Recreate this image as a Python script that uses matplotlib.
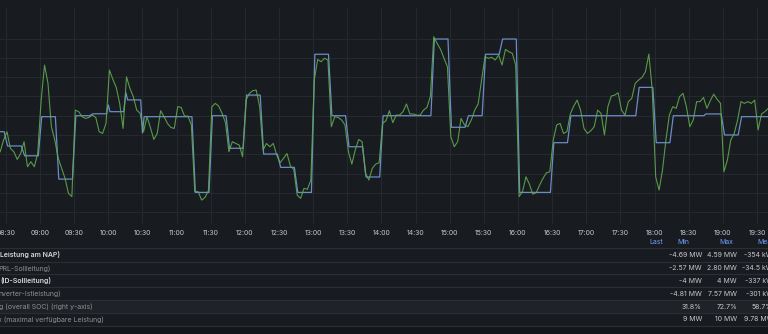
import pandas as pd
import matplotlib.pyplot as plt
import matplotlib.dates as mdates

# NAP power (green), 3-minute samples from 08:25
nap_start = "2024-01-01 08:25"
nap_mw = [
    -1.87, -1.26, -0.83, -1.70, -1.87, -2.27, -1.96, -1.35, -2.65, -2.39,
    -2.65, -1.96, 0.81, 2.63, 1.68, -0.57, -1.26, -2.21, -2.73, -3.25,
    -4.03, -4.20, 0.29, 0.21, -0.05, -0.14, -0.09, 0.03, -0.09, -0.83,
    -0.92, -0.40, 2.37, 1.89, 1.47, 0.64, -0.66, 2.02, 1.42, 0.99,
    0.29, 0.12, -0.83, -0.05, -0.61, -1.23, -0.92, 0.26, -0.05, -0.40,
    -0.61, -0.66, 0.47, 0.43, -0.02, -0.02, -0.48, -3.94, -3.94, -4.38,
    -4.24, -3.89, 0.47, 0.64, 0.50, 0.12, -0.36, -1.87, -1.35, -1.44,
    -1.52, -2.13, 0.81, 1.16, 1.30,
    1.33, 0.47, -1.78, -1.44, -1.61, -1.44, -2.04, -2.44, -2.21, -1.96,
    -2.61, -2.79, -4.12, -4.29, -3.77, -3.82, -3.34, 1.85, 2.92, 2.80,
    2.98, 2.89, -0.57, -0.05, -0.09, -0.22, -0.48, -1.87, -2.51, -1.78,
    -1.23, -1.35, -2.99, -3.34, -2.73, -2.51, -2.44, -0.40, -0.26, 0.26,
    -0.36, 0.03, 0.03, 0.21, 0.61, 0.09, 0.09, 0.03, 0.03, 0.29,
    0.43, 0.99, 4.10, 3.75, 3.44, 2.98, 2.54, -1.09, -1.61, -1.35,
    -0.14, -0.48, -0.57, -0.22, 0.29, 0.61, 1.85, 3.06, 2.98, 3.03,
    2.89, 3.15, 2.63, 3.44, 3.32,
    3.24, 2.63, -4.20, -3.94, -3.17, -3.55, -4.07, -4.00, -3.60, -3.25,
    -2.96, -2.91, -1.26, -0.48, -0.40, -0.92, -0.83, 0.09, 0.50, 0.81,
    0.29, -0.66, -0.92, -0.78, -0.57, 0.29, 0.12, -1.00, 0.47, 1.02,
    1.07, 1.19, 0.29, 0.03, 0.73, 0.90, 1.68, 1.85, 1.99, 2.28,
    3.20, 1.33, -3.17, -3.86, -2.82, -1.26, 0.03, 0.47, 0.38, 0.99,
    1.16, 0.47, -0.57, -0.22, 0.73, 0.73, 0.95, 0.38, 0.78, 1.12,
    0.85, 0.64, -2.91, -2.30, -1.26, -0.92, -0.22, 0.73, 0.64, 0.73,
    0.64, 0.81, -0.74, 0.09, 0.21, 0.38,
]

# ID setpoint (blue), breakpoints
id_time = [
    "08:25:00", "08:28:30", "08:31:30", "08:43:30", "08:46:30", "08:58:30",
    "09:01:30", "09:13:30", "09:16:30", "09:28:30", "09:31:30", "09:43:30",
    "09:46:30", "09:58:30", "10:00:00", "10:01:30", "10:13:30", "10:15:30",
    "10:17:00", "10:28:30", "10:30:00", "10:31:30", "11:13:30", "11:16:30",
    "11:28:30", "11:31:30", "11:43:30", "11:46:30", "11:58:30", "12:01:30",
    "12:13:30", "12:16:30", "12:28:30", "12:31:30", "12:43:30", "12:46:30",
    "12:58:30", "13:01:30", "13:13:30", "13:16:30", "13:28:30", "13:31:30",
    "13:43:30", "13:46:30", "13:58:30", "14:01:30", "14:43:30", "14:46:30",
    "14:58:30", "15:01:30", "15:13:30", "15:16:30", "15:28:30", "15:31:30",
    "15:43:30", "15:46:30", "15:58:30", "16:01:30", "16:28:30", "16:31:30",
    "16:43:30", "16:46:30", "17:43:30", "17:46:30", "17:58:30", "18:01:30",
    "18:13:30", "18:16:30", "18:43:30", "18:45:00", "18:58:30", "19:01:30",
    "19:13:30", "19:16:30", "19:40:00",
]
id_mw = [
    -0.83, -0.83, -1.57, -1.57, -2.08, -2.08,
    -0.05, -0.05, -3.29, -3.29, 0.0, 0.0,
    0.10, 0.10, 0.56, 0.21, 0.21, 1.19,
    0.82, 0.82, -0.90, -0.05, -0.05, -3.98,
    -3.98, 0.0, 0.0, -1.69, -1.69, 1.07,
    1.07, -1.99, -1.99, -2.68, -2.68, -3.98,
    -3.98, 3.19, 3.19, 0.0, 0.0, -1.61,
    -1.61, -3.18, -3.18, 0.0, 0.0, 3.98,
    3.98, -0.60, -0.60, 0.0, 0.0, 3.19,
    3.19, 3.98, 3.98, -3.98, -3.98, -1.40,
    -1.40, 0.0, 0.0, 1.47, 1.47, -1.40,
    -1.40, 0.0, 0.0, 0.09, 0.09, -1.0,
    -1.0, -0.05, -0.05,
]

# legend table
names = ["Leistung am NAP)", "PRL-Sollleitung)", "(ID-Sollleitung)",
         "nverter-Istleistung)", "g (overall SOC) (right y-axis)",
         "x (maximal verfügbare Leistung)"]
visible = [True, False, True, False, False, False]
col_min = ["-4.69 MW", "-2.57 MW", "-4 MW", "-4.81 MW", "31.8%", "9 MW"]
col_max = ["4.59 MW", "2.80 MW", "4 MW", "7.57 MW", "72.7%", "10 MW"]
col_mean = ["-354 kW", "-34.5 kW", "-337 kW", "-301 kW", "58.7%", "9.78 MW"]

bg = "#181b1f"
plt.rcParams["font.family"] = ["Inter", "DejaVu Sans"]

nap_t = pd.date_range(nap_start, periods=len(nap_mw), freq="3min")
id_t = pd.to_datetime(["2024-01-01 " + s for s in id_time])

fig = plt.figure(figsize=(7.68, 3.34), dpi=100, facecolor=bg)
W, H = 768, 334
ax = fig.add_axes([0, 1 - 224 / H, 1, 216 / H], facecolor=bg)

ax.plot(id_t, id_mw, color="#6a8cc8", lw=0.9)
ax.plot(nap_t, nap_mw, color="#5ea84e", lw=0.8, alpha=0.9)

ax.set_xlim(pd.Timestamp("2024-01-01 08:24:51"), pd.Timestamp("2024-01-01 19:39:42"))
ax.set_ylim(-5.62, 5.59)
ax.set_yticks(range(-5, 5))
ax.set_xticks(pd.date_range("2024-01-01 08:30", "2024-01-01 19:30", freq="30min"))
ax.xaxis.set_major_formatter(mdates.DateFormatter("%H:%M"))
ax.grid(True, color="#25282d", lw=0.8)
ax.set_axisbelow(True)
ax.tick_params(axis="x", length=0, pad=4.5, labelsize=5, labelcolor="#c4c5cb")
ax.tick_params(axis="y", length=0, labelleft=False)
for s in ax.spines.values():
    s.set_visible(False)

# table area in pixel coordinates
tab = fig.add_axes([0, 0, 1, 1], facecolor="none", zorder=-1)
tab.set_xlim(0, W)
tab.set_ylim(H, 0)
tab.axis("off")
tab.axhspan(300.3, 313.3, color="#1f2226", lw=0)
tab.axhspan(326, H, color="#141619", lw=0)
for y in [248.3, 261.7, 274.3, 287.3, 300.3, 313.3, 326]:
    tab.axhline(y, color="#2b2e34", lw=0.8)

hdr = dict(color="#6e9fff", fontsize=5, va="center")
tab.text(663, 241.7, "Last", ha="right", **hdr)
tab.text(689, 241.7, "Min", ha="right", **hdr)
tab.text(733, 241.7, "Max", ha="right", **hdr)
tab.text(757, 241.7, "Mean", ha="left", **hdr)

row_y = [255, 268.3, 281, 293.7, 306.7, 319.3]
name_x = [0, -2, 0.5, -1.5, -1, -2.5]
for i in range(len(names)):
    y = row_y[i]
    if visible[i]:
        tab.text(name_x[i], y, names[i], color="#d8d9da", fontsize=5,
                 fontweight="semibold", va="center", ha="left")
    else:
        tab.text(name_x[i], y, names[i], color="#8e8f94", fontsize=5,
                 va="center", ha="left")
    tab.text(702, y, col_min[i], color="#c7c8cd", fontsize=5, va="center", ha="right")
    tab.text(737, y, col_max[i], color="#c7c8cd", fontsize=5, va="center", ha="right")
    tab.text(773, y, col_mean[i], color="#c7c8cd", fontsize=5, va="center", ha="right")

fig.savefig("out.png", dpi=100, facecolor=bg)
